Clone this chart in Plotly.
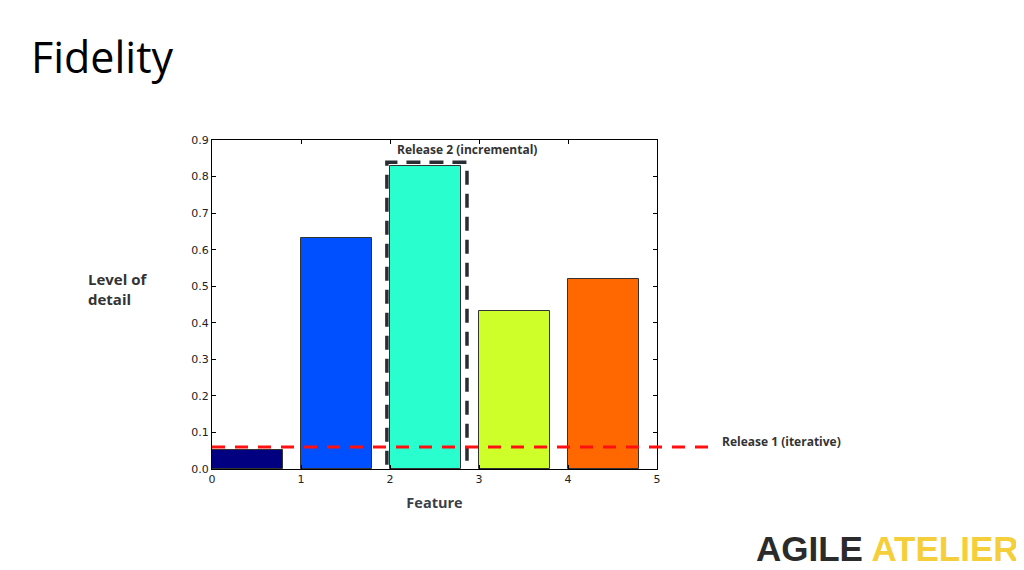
import plotly.graph_objects as go

features = [0, 1, 2, 3, 4]
detail = [0.053, 0.632, 0.829, 0.432, 0.521]
bar_colors = ["#000080", "#0050FF", "#29FFCE", "#CEFF29", "#FF6800"]
release1_level = 0.06
y_ticks = [0.0, 0.1, 0.2, 0.3, 0.4, 0.5, 0.6, 0.7, 0.8, 0.9]
x_ticks = [0, 1, 2, 3, 4, 5]
bar_width = 0.8

fig = go.Figure()
fig.add_trace(go.Bar(
    x=[f + bar_width / 2 for f in features], y=detail, width=bar_width,
    marker=dict(color=bar_colors, line=dict(color="#333333", width=1)),
    showlegend=False, hoverinfo="y",
))

axis_common = dict(showgrid=False, zeroline=False, showline=True, linecolor="#000000",
                   linewidth=1, mirror="ticks", ticks="inside", ticklen=4, tickcolor="#000000",
                   tickfont=dict(family="DejaVu Sans", size=11, color="#222222"))

fig.update_xaxes(range=[0, 5], tickvals=x_ticks, **axis_common,
                 title=dict(text="<b>Feature</b>", font=dict(family="Open Sans", size=14.5, color="#3a3f4a"), standoff=12))
fig.update_yaxes(range=[0, 0.9], tickvals=y_ticks, tickformat=".1f", **axis_common)

# Release 2 dashed box around feature 2
fig.add_shape(type="rect", xref="x", yref="y", x0=1.965, x1=2.865, y0=-0.01, y1=0.839,
              line=dict(color="#2a2d33", width=3.5, dash="14px,9px"), fillcolor="rgba(0,0,0,0)", layer="above")
# Release 1 dashed line
fig.add_shape(type="line", xref="paper", yref="y", x0=0, x1=1.13, y0=release1_level, y1=release1_level,
              line=dict(color="#FF1010", width=3, dash="13px,10px"), layer="above")

fig.add_annotation(text="<b>Release 2 (incremental)</b>", xref="x", yref="y", x=2.06, y=0.875,
                   xanchor="left", yanchor="middle", showarrow=False,
                   font=dict(family="Open Sans", size=12, color="#333333"))
fig.add_annotation(text="<b>Release 1 (iterative)</b>", xref="paper", yref="y", x=1.142, y=0.075,
                   xanchor="left", yanchor="middle", showarrow=False,
                   font=dict(family="Open Sans", size=12, color="#333333"))
fig.add_annotation(text="<b>Level of<br>detail</b>", xref="paper", yref="paper", x=-0.283, y=0.548,
                   xanchor="left", yanchor="middle", showarrow=False, align="left",
                   font=dict(family="Open Sans", size=15, color="#333333"))
fig.add_annotation(text="Fidelity", xref="paper", yref="paper", x=-0.411, y=1.255,
                   xanchor="left", yanchor="middle", showarrow=False,
                   font=dict(family="Open Sans", size=43, color="#000000"))
fig.add_annotation(text="<b><span style='color:#2b2b2b'>AGILE</span> <span style='color:#F5CF3B'>ATELIER</span></b>",
                   xref="paper", yref="paper", x=1.818, y=-0.243, xanchor="right", yanchor="middle",
                   showarrow=False, font=dict(family="Liberation Sans", size=35))

# page body adds an 8px offset, so the figure is 8px smaller and margins shifted
fig.update_layout(width=1016, height=562, margin=dict(l=204, r=367, t=132, b=101),
                  paper_bgcolor="white", plot_bgcolor="white", bargap=0)
fig.write_html("out.html")
